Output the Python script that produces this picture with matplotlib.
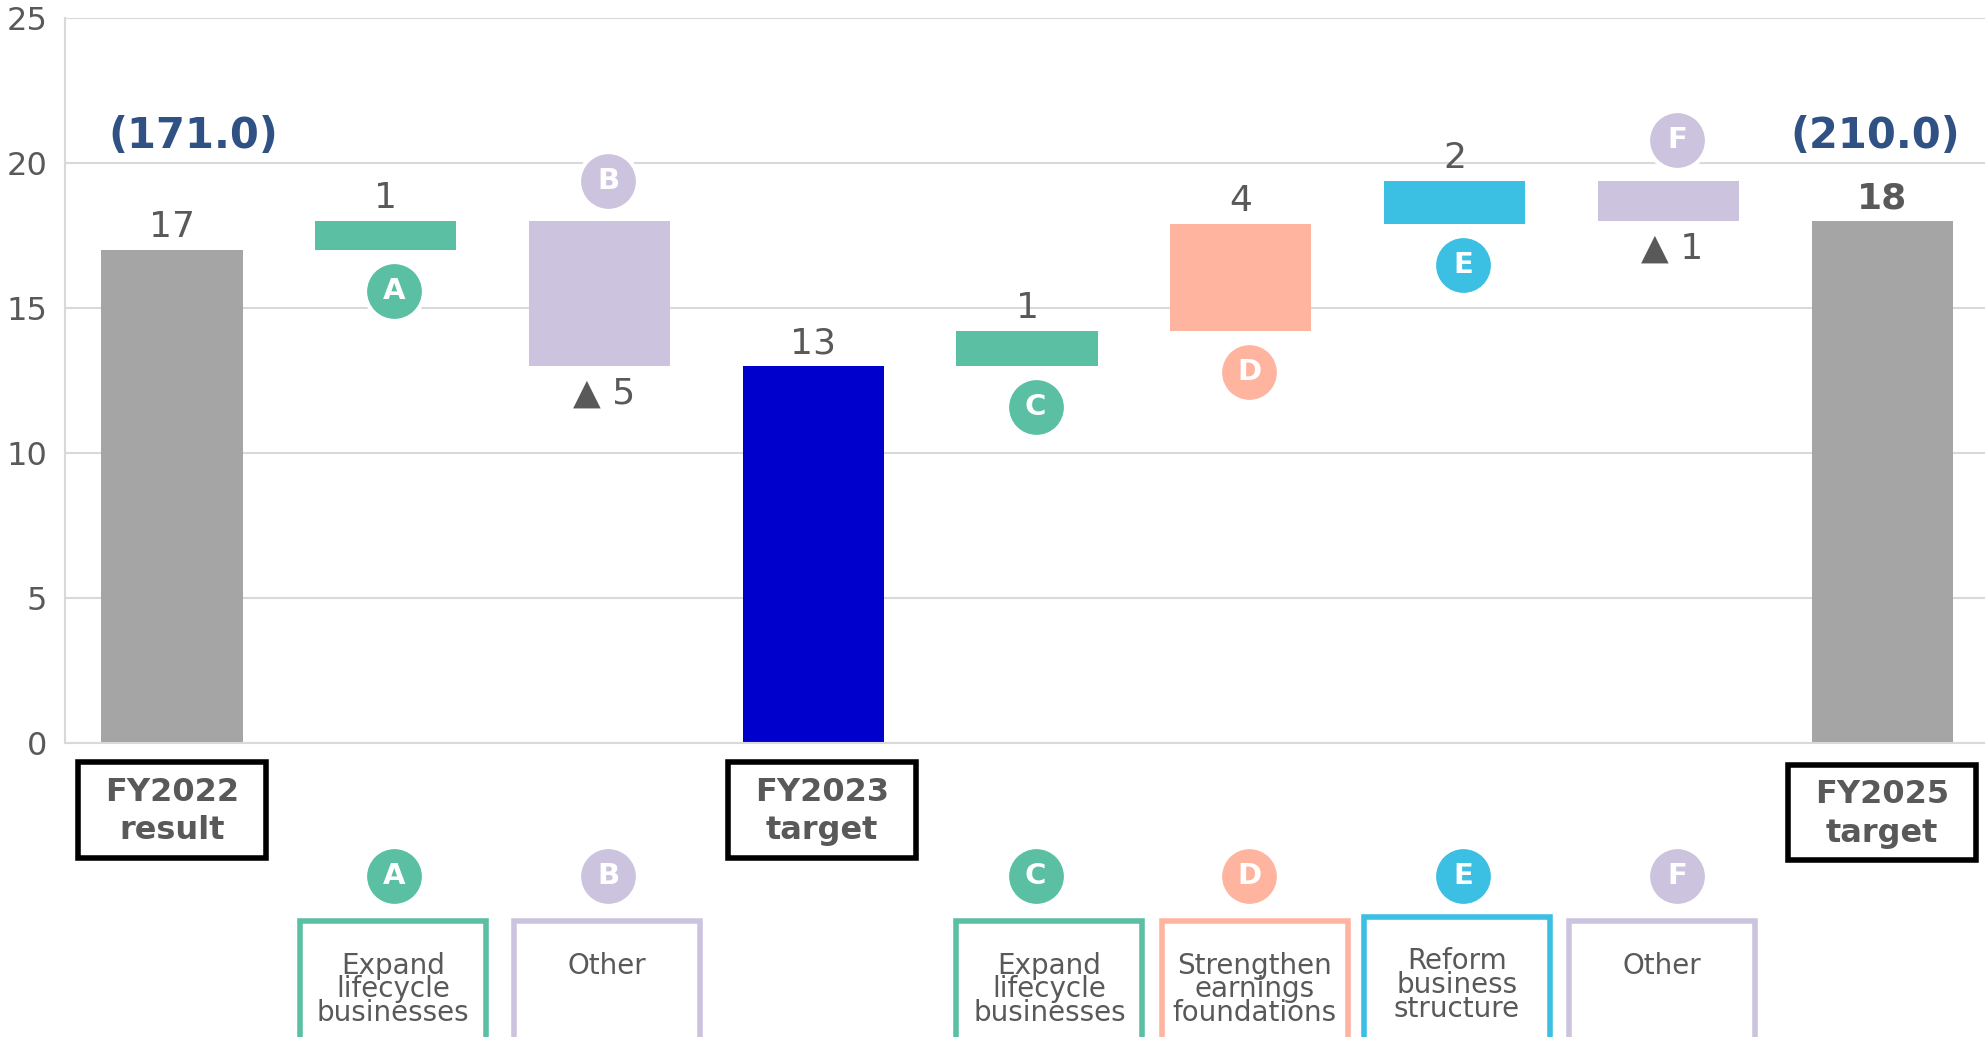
"""
Waterfall of operating profit: FY2022 result -> FY2023 target -> FY2025 target
"""

import matplotlib.pyplot as plt
from matplotlib.patches import Rectangle

# data
categories = ['FY2022 result', 'A', 'B', 'FY2023 target', 'C', 'D', 'E', 'F', 'FY2025 target']
values = [17, 1, -5, 13, 1.2, 3.7, 1.5, -1.4, 18]
is_total = [True, False, False, True, False, False, False, False, True]
value_labels = ['17', '1', '▲ 5', '13', '1', '4', '2', '▲ 1', '18']
bar_colors = ['#A5A5A5', '#5BBFA4', '#CCC4DF', '#0000CC', '#5BBFA4',
              '#FFB4A0', '#3BBFE3', '#CCC4DF', '#A5A5A5']
total_names = {0: 'FY2022\nresult', 3: 'FY2023\ntarget', 8: 'FY2025\ntarget'}
sales_notes = {0: '(171.0)', 8: '(210.0)'}
driver_text = {1: 'Expand\nlifecycle\nbusinesses', 2: 'Other',
               4: 'Expand\nlifecycle\nbusinesses', 5: 'Strengthen\nearnings\nfoundations',
               6: 'Reform\nbusiness\nstructure', 7: 'Other'}

TEXT = '#595959'
NAVY = '#2F5183'

plt.rcParams['font.family'] = ['DejaVu Sans']

fig = plt.figure(figsize=(19.85, 10.37), dpi=100)
ax = fig.add_axes([0.0328, 0.2835, 0.9692, 0.699])

# waterfall bottoms
bottoms = []
heights = []
running = 0
for v, tot in zip(values, is_total):
    if tot:
        bottoms.append(0)
        heights.append(v)
        running = v
    else:
        if v >= 0:
            bottoms.append(running)
        else:
            bottoms.append(running + v)
        heights.append(abs(v))
        running += v

x = range(len(categories))
ax.bar(x, heights, bottom=bottoms, width=0.66, color=bar_colors, zorder=2)

ax.set_xlim(-0.5, len(categories) - 0.5)
ax.set_ylim(0, 25)
ax.set_yticks([0, 5, 10, 15, 20, 25])
ax.set_xticks([])
ax.tick_params(axis='y', length=0, pad=13, labelsize=23, labelcolor=TEXT)
ax.grid(axis='y', color='#D9D9D9', linewidth=1.5, zorder=0)
for s in ['top', 'right']:
    ax.spines[s].set_visible(False)
for s in ['left', 'bottom']:
    ax.spines[s].set_color('#D9D9D9')
    ax.spines[s].set_linewidth(1.5)


def badge(xc, yc, letter, color, size=1800):
    ax.scatter([xc], [yc], s=size, color=color, edgecolor='white',
               linewidth=3, zorder=4, clip_on=False)
    ax.text(xc, yc, letter, color='white', fontsize=21, fontweight='bold',
            ha='center', va='center', zorder=5, clip_on=False)


# value labels and badges
for i, (b, h, v) in enumerate(zip(bottoms, heights, values)):
    top = b + h
    if is_total[i] or v >= 0:
        ax.text(i, top + 0.2, value_labels[i], ha='center', va='bottom',
                fontsize=26, color=TEXT,
                fontweight='bold' if i == len(values) - 1 else 'normal')
    else:
        ax.text(i + 0.02, b - 0.35, value_labels[i], ha='center', va='top',
                fontsize=26, color=TEXT)
    if not is_total[i]:
        if v >= 0:
            badge(i + 0.04, b - 1.4, categories[i], bar_colors[i])
        else:
            badge(i + 0.04, top + 1.4, categories[i], bar_colors[i])

for i, note in sales_notes.items():
    ax.text(i + 0.1 if i == 0 else i - 0.03, 20.95, note, ha='center', va='center',
            fontsize=30, fontweight='bold', color=NAVY)

# boxes under the axis
total_shift = {0: 0.0, 3: 0.04, 8: 0.0}
for i, name in total_names.items():
    xc = i + total_shift[i]
    y0 = -3.95 if i != 8 else -4.05
    ax.add_patch(Rectangle((xc - 0.44, y0), 0.88, 3.3, fill=False, edgecolor='black',
                           linewidth=4, clip_on=False))
    ax.text(xc, y0 + 1.6, name, ha='center', va='center', fontsize=23,
            fontweight='bold', color=TEXT, linespacing=1.3, clip_on=False)

box_shift = {1: 0.035, 2: 0.035, 4: 0.105, 5: 0.065, 6: 0.01, 7: -0.03}
for i, txt in driver_text.items():
    color = bar_colors[i]
    xc = i + box_shift[i]
    badge(i + 0.04, -4.6, categories[i], color)
    ytop = -6.15 if i != 6 else -6.0
    ax.add_patch(Rectangle((xc - 0.435, ytop - 6), 0.87, 6, fill=False, edgecolor=color,
                           linewidth=4, clip_on=False))
    ax.text(xc, ytop - 1.05, txt, ha='center', va='top', fontsize=20,
            color=TEXT, linespacing=0.8, clip_on=False)

fig.savefig('out.png', dpi=100)
